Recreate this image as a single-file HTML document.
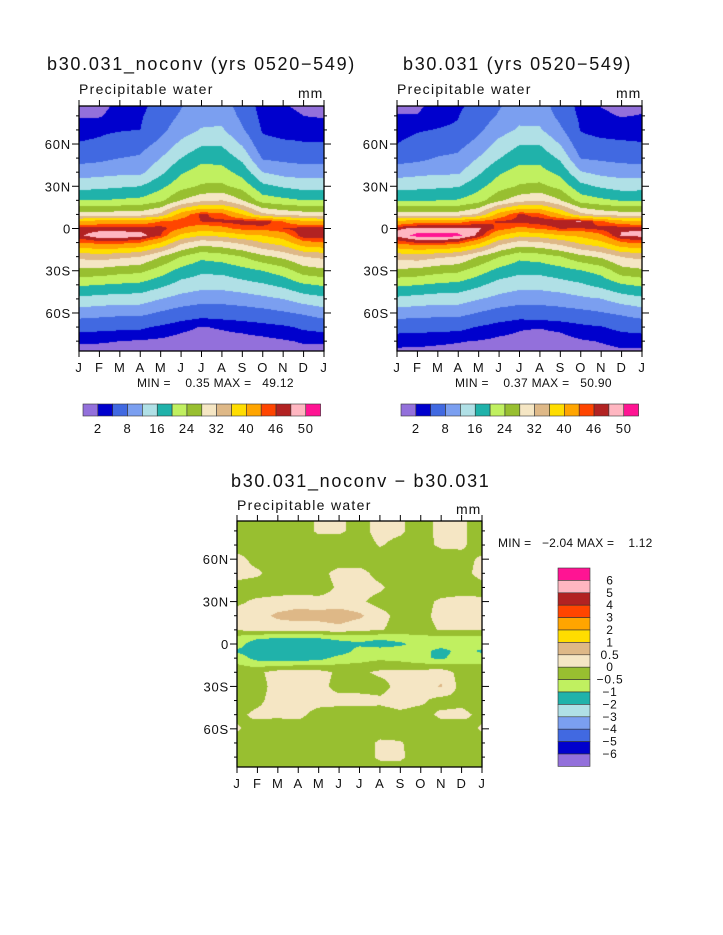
<!DOCTYPE html>
<html><head><meta charset="utf-8">
<style>
body{margin:0;background:#fff;}
#wrap{position:relative;width:723px;height:935px;overflow:hidden;background:#fff;font-family:"Liberation Sans",sans-serif;color:#111;}
.t{position:absolute;white-space:nowrap;}
.ttl{font-size:18px;letter-spacing:1.7px;}
.sub{font-size:14px;letter-spacing:1.3px;}
.mm{font-size:14px;letter-spacing:1px;}
.mx{font-size:12px;letter-spacing:0.3px;}
canvas{position:absolute;}
svg{position:absolute;left:0;top:0;}
svg text{letter-spacing:0.8px;}
</style></head>
<body>
<div id="wrap">
<div class="t ttl" style="left:47px;top:54px;">b30.031_noconv (yrs 0520−549)</div>
<div class="t ttl" style="left:403px;top:54px;">b30.031 (yrs 0520−549)</div>
<div class="t sub" style="left:79px;top:81px;">Precipitable water</div>
<div class="t mm" style="left:298px;top:85px;">mm</div>
<div class="t sub" style="left:397px;top:81px;">Precipitable water</div>
<div class="t mm" style="left:616px;top:85px;">mm</div>
<div class="t mx" style="left:137px;top:376px;">MIN =&nbsp;&nbsp;&nbsp; 0.35 MAX =&nbsp;&nbsp; 49.12</div>
<div class="t mx" style="left:455px;top:376px;">MIN =&nbsp;&nbsp;&nbsp; 0.37 MAX =&nbsp;&nbsp; 50.90</div>
<div class="t ttl" style="left:231px;top:471px;">b30.031_noconv − b30.031</div>
<div class="t sub" style="left:237px;top:497px;">Precipitable water</div>
<div class="t mm" style="left:456px;top:501px;">mm</div>
<div class="t" style="left:498px;top:536px;font-size:12px;letter-spacing:0.2px;">MIN =&nbsp;&nbsp; −2.04 MAX =&nbsp;&nbsp;&nbsp; 1.12</div>
<canvas id="c0" width="245" height="245" style="left:79px;top:106px"></canvas>
<canvas id="c1" width="245" height="245" style="left:397px;top:106px"></canvas>
<canvas id="c2" width="245" height="246" style="left:237px;top:521px"></canvas>
<svg id="ov" width="723" height="935"></svg>
</div>
<script>
const lats=[-90,-80,-70,-60,-50,-40,-30,-20,-10,-5,0,5,10,20,30,40,50,60,70,80,90];
const monthLabels=['J','F','M','A','M','J','J','A','S','O','N','D','J'];
const latTickVals=[60,30,0,-30,-60];
const latTickLabels=['60N','30N','0','30S','60S'];
const colors=['#9370DB','#0000CD','#4169E1','#7B9FF0','#B0E0E6','#20B2AA','#C0F060','#98BF30','#F5E6C4','#DEB887','#FFDD00','#FFA500','#FF4500','#B22222','#FFB6C1','#FF1493'];
const pwLevels=[2,4,8,12,16,20,24,28,32,36,40,44,46,48,50];
const pwLevelLabels=['2','8','16','24','32','40','46','50'];
const diffLevels=[-6,-5,-4,-3,-2,-1,-0.5,0,0.5,1,2,3,4,5,6];
const diffLevelLabels=['−6','−5','−4','−3','−2','−1','−0.5','0','0.5','1','2','3','4','5','6'];
// noconv precipitable water, month columns, values south->north on lats
const pwJan=[1,2.3,5,10,15,20.5,27,33,44,47.5,47,40,30,20,14.5,10,6.5,4.2,3,1.8,1];
const pwFeb=[1,2.2,4.8,9.5,14.5,20,26.5,34,45,49.5,47,42,30,20,15,10.5,7,4.5,3.5,1.8,1];
const pwMar=[1,2,4.6,9,14,19.5,25.5,33,45,49.5,47,42,30,20.5,15.5,11,8,5.5,3.8,3,2.5];
const pwApr=[1,1.8,4.5,9,14,19,25,32,44,49,47,42,30,21,16,11,8.5,6.5,4,3.6,3];
const pwMay=[1,1.6,3.5,7.5,12,17,22,28,40,46,47,44,33,23,19,15,12,9,7,6,5];
const pwJun=[1,1.3,2.5,6,10.5,14.5,18.5,24,33,39,44,45.5,42,28,22.5,19.5,16,13,10,8.5,7.5];
const pwJul=[1,1.2,1.9,5.2,9.5,13.5,16.8,21,30,36,42,46,46.5,31,24.5,21.8,18.8,15.5,12.3,10.5,9];
const pwAug=[1,1.3,2.2,5.5,9.5,13.5,17,22,31,37,43,46.5,45,32,24.8,21.5,18.5,15.5,12.5,10.8,9.5];
const pwSep=[1,1.4,2.5,6,10,14.5,18.5,24,33,39,45,47,40,28,22.5,18.5,15,11.5,8.5,7,6];
const pwOct=[1,1.5,3,6.5,11,15.5,20,27,36,40,45,47.5,33,22,17,12,7.5,5,3.6,3,2.5];
const pwNov=[1,1.8,3.5,7.5,12,17,22,29,38,42,46,44,31,21,15.5,10.5,7,4.5,3,2.5,2];
const pwDec=[1.2,2.2,4.5,8.5,14,19.5,26,32,43,47.5,47,41,30,20,14.5,10,6.5,4.2,3,2,1.5];
const pwNoconv=[pwJan,pwFeb,pwMar,pwApr,pwMay,pwJun,pwJul,pwAug,pwSep,pwOct,pwNov,pwDec,pwJan];
// difference noconv - control, rows by lat (south->north), 13 months
const diffRows=[
[-.3,-.3,-.3,-.3,-.3,-.3,-.3,-.3,-.3,-.3,-.3,-.3,-.3],
[-.3,-.3,-.3,-.3,-.3,-.3,-.3,.1,.1,-.3,-.3,-.3,-.3],
[-.2,-.3,-.3,-.3,-.3,-.3,-.3,.1,.05,-.3,-.3,-.3,-.2],
[.05,-.2,-.3,-.3,-.3,-.3,-.3,-.3,-.3,-.3,-.2,-.2,.05],
[-.1,.1,.1,.15,-.2,-.3,-.3,-.2,-.1,-.2,.1,.1,-.1],
[-.2,-.1,.2,.2,.2,.2,.2,.1,.2,.1,-.2,-.1,-.2],
[-.2,-.2,.2,.25,.2,-.2,-.2,-.2,.2,.2,.55,-.2,-.2],
[-.2,-.1,.2,.25,.2,-.1,-.1,.1,.15,.2,.3,-.2,-.2],
[-.7,-1.2,-1.3,-1.3,-1.2,-.8,-.7,-.6,-.7,-.9,-1.1,-.7,-.7],
[-1.1,-1.3,-1.5,-1.6,-1.5,-1.3,-.8,-.7,-.7,-.8,-1.2,-.8,-1.1],
[-.7,-1.4,-1.6,-1.5,-1.4,-1.2,-1.1,-1.3,-1.1,-.8,-.7,-.7,-.7],
[-.6,-.8,-.9,-.9,-.9,-.8,-.7,-.8,-.7,-.6,-.6,-.6,-.6],
[.05,.1,.2,.2,.2,.3,.1,.05,-.2,-.2,.05,.05,.05],
[.2,.3,.6,.7,.7,.8,.6,.2,-.2,-.2,.2,.3,.2],
[-.1,.1,.2,.3,.2,.2,.1,-.2,-.2,-.2,.1,.2,.1],
[-.2,-.3,-.3,-.3,-.3,.1,.2,.1,-.3,-.3,-.3,-.3,-.2],
[.2,.1,-.3,-.3,-.2,.2,.2,-.2,-.3,-.3,-.3,-.2,.2],
[.2,-.2,-.3,-.3,-.3,-.3,-.3,-.3,-.3,-.3,-.3,-.2,.1],
[-.3,-.3,-.3,-.3,-.3,-.3,-.3,.05,-.2,-.2,.1,.1,-.3],
[-.3,-.3,-.3,-.3,.1,.1,-.2,.2,.1,-.3,.2,.1,-.3],
[-.3,-.3,-.3,-.3,.1,.1,-.2,.2,.1,-.3,.2,.1,-.3]];

function noconvAt(m,j){return pwNoconv[m][j];}
function diffAt(m,j){return diffRows[j][m];}
function controlAt(m,j){return pwNoconv[m][j]-diffRows[j][m];}
function sample(fn,mf,lat){
  let m0=Math.min(11,Math.floor(mf)),tm=mf-m0;
  let j0=0;while(j0<lats.length-2&&lats[j0+1]<lat)j0++;
  let tl=(lat-lats[j0])/(lats[j0+1]-lats[j0]);
  const a=fn(m0,j0),b=fn(m0+1,j0),c=fn(m0,j0+1),d=fn(m0+1,j0+1);
  return (a*(1-tm)+b*tm)*(1-tl)+(c*(1-tm)+d*tm)*tl;
}
function hex(c){return [parseInt(c.substr(1,2),16),parseInt(c.substr(3,2),16),parseInt(c.substr(5,2),16)];}
const rgb=colors.map(hex);
function levelIdx(v,lev){let k=0;while(k<lev.length&&v>=lev[k])k++;return k;}
function draw(id,fn,lev){
  const cv=document.getElementById(id),ctx=cv.getContext('2d');
  const W=cv.width,H=cv.height,img=ctx.createImageData(W,H);
  for(let y=0;y<H;y++){const lat=87-(y+0.5)/H*174;
    for(let x=0;x<W;x++){const mf=(x+0.5)/W*12;
      const c=rgb[levelIdx(sample(fn,mf,lat),lev)];const p=(y*W+x)*4;
      img.data[p]=c[0];img.data[p+1]=c[1];img.data[p+2]=c[2];img.data[p+3]=255;}}
  ctx.putImageData(img,0,0);
}
draw('c0',noconvAt,pwLevels);draw('c1',controlAt,pwLevels);draw('c2',diffAt,diffLevels);

const NS='http://www.w3.org/2000/svg',ov=document.getElementById('ov');
function el(tag,at,parent){const e=document.createElementNS(NS,tag);for(const k in at)e.setAttribute(k,at[k]);(parent||ov).appendChild(e);return e;}
function axes(x0,y0,w,h,name){
  const g=el('g',{});
  
  
  const xs=m=>x0+m/12*w, ys=lat=>y0+(87-lat)/174*h;
  el('rect',{x:x0,y:y0,width:w,height:h,fill:'none',stroke:'#000','stroke-width':1.3},g);
  monthLabels.forEach((lb,m)=>{const x=xs(m);
    el('line',{x1:x,x2:x,y1:y0,y2:y0-6,stroke:'#000'},g);
    el('line',{x1:x,x2:x,y1:y0+h,y2:y0+h+6,stroke:'#000'},g);
    const t=el('text',{x:x,y:y0+h+21,'font-size':13,'text-anchor':'middle',fill:'#111'},g);t.textContent=lb;
    
    });
  for(let lat=-80;lat<=80;lat+=10){const y=ys(lat),maj=lat%30===0;
    el('line',{x1:x0,x2:x0-(maj?7:3),y1:y,y2:y,stroke:'#000'},g);
    el('line',{x1:x0+w,x2:x0+w+(maj?7:3),y1:y,y2:y,stroke:'#000'},g);}
  latTickVals.forEach((lat,i)=>{const t=el('text',{x:x0-8,y:ys(lat)+5,'font-size':13,'text-anchor':'end',fill:'#111'},g);t.textContent=latTickLabels[i];
    
    });
}
axes(79,106,245,245,'left');axes(397,106,245,245,'right');axes(237,521,245,246,'diff');
function hbar(x0,y0,name){
  const g=el('g',{});
  
  
  const bw=14.85;
  colors.forEach((c,i)=>{const r=el('rect',{x:x0+i*bw,y:y0,width:bw,height:12,fill:c,stroke:'#333','stroke-width':0.6},g);
    
    });
  pwLevelLabels.forEach((lb,i)=>{const t=el('text',{x:x0+(2*i+1)*bw,y:y0+29,'font-size':13,'text-anchor':'middle',fill:'#111'},g);t.textContent=lb;
    
    });
}
hbar(83,404,'left-colorbar');hbar(401,404,'right-colorbar');
(function(){const g=el('g',{});
  
  
  const x0=558,y0=568,bh=12.4;
  colors.slice().reverse().forEach((c,i)=>{const r=el('rect',{x:x0,y:y0+i*bh,width:32,height:bh,fill:c,stroke:'#333','stroke-width':0.6},g);
    
    });
  diffLevelLabels.slice().reverse().forEach((lb,i)=>{const t=el('text',{x:610,y:y0+(i+1)*bh+4,'font-size':12,'text-anchor':'middle',fill:'#111'},g);t.textContent=lb;
    
    });
})();
</script>
</body></html>
